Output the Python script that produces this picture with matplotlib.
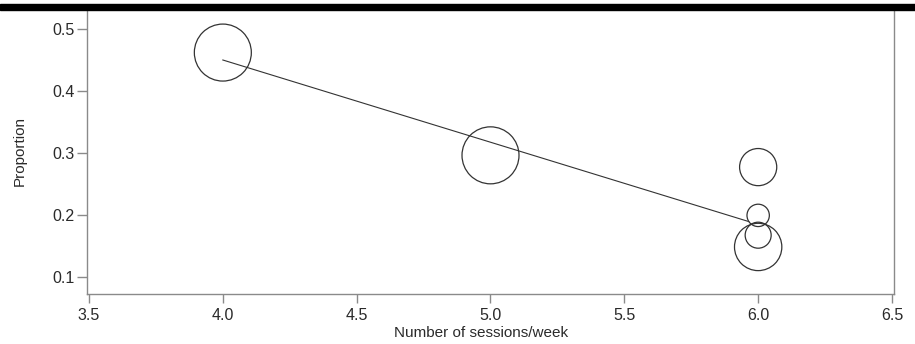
import matplotlib
matplotlib.use("Agg")
import matplotlib.pyplot as plt
import numpy as np

plt.rcParams['font.family'] = ['Liberation Sans', 'DejaVu Sans']

# Study-level proportions by number of sessions per week
sessions = [4.0, 5.0, 6.0, 6.0, 6.0, 6.0]
proportion = [0.462, 0.296, 0.277, 0.199, 0.167, 0.148]
# Study weights (bubble area)
weights = [812, 812, 345, 125, 169, 560]

# Meta-regression fitted line
fit_x = [4.0, 5.965]
fit_y = [0.450, 0.189]

xticks = [3.5, 4.0, 4.5, 5.0, 5.5, 6.0, 6.5]
yticks = [0.1, 0.2, 0.3, 0.4, 0.5]

W, H, DPI = 915, 344, 100
fig = plt.figure(figsize=(W / DPI, H / DPI), dpi=DPI)
ax = fig.add_axes([87 / W, 1 - 294 / H, (894 - 87) / W, (294 - 8) / H])

spine_col = '#8a8a8a'
text_col = '#2a2a2a'
mark_col = '#333333'

sizes = np.array(weights) * (2 * 72 / DPI) ** 2
ax.scatter(sessions, proportion, s=sizes, facecolors='none',
           edgecolors=mark_col, linewidths=0.9, zorder=3)
ax.plot(fit_x, fit_y, color=mark_col, linewidth=0.8, zorder=2)

ax.set_xlim(3.4925, 6.5075)
ax.set_ylim(0.072, 0.534)
ax.set_xticks(xticks)
ax.set_xticklabels([f"{t:.1f}" for t in xticks])
ax.set_yticks(yticks)
ax.set_yticklabels([f"{t:.1f}" for t in yticks])

for side in ['left', 'bottom', 'right']:
    ax.spines[side].set_color(spine_col)
    ax.spines[side].set_linewidth(1.0)
ax.spines['top'].set_visible(False)

ax.tick_params(axis='y', direction='out', length=7, width=1.0, color=spine_col,
               labelsize=11.5, labelcolor=text_col, pad=2)
ax.tick_params(axis='x', direction='out', length=6.5, width=1.0, color=spine_col,
               labelsize=11.5, labelcolor=text_col, pad=3.5)

ax.set_xlabel('Number of sessions/week', fontsize=11, color=text_col)
ax.set_ylabel('Proportion', fontsize=11, color=text_col)
ax.xaxis.set_label_coords((481 - 87) / (894 - 87), (294 - 326) / (294 - 8))
ax.yaxis.set_label_coords((27 - 87) / (894 - 87), 0.5)

# heavy rule across the top of the figure
fig.patches.append(plt.Rectangle((0, 1 - 10 / H), 1, 5.5 / H,
                                 transform=fig.transFigure, color='black',
                                 zorder=10))

fig.savefig('out.png', dpi=DPI)
